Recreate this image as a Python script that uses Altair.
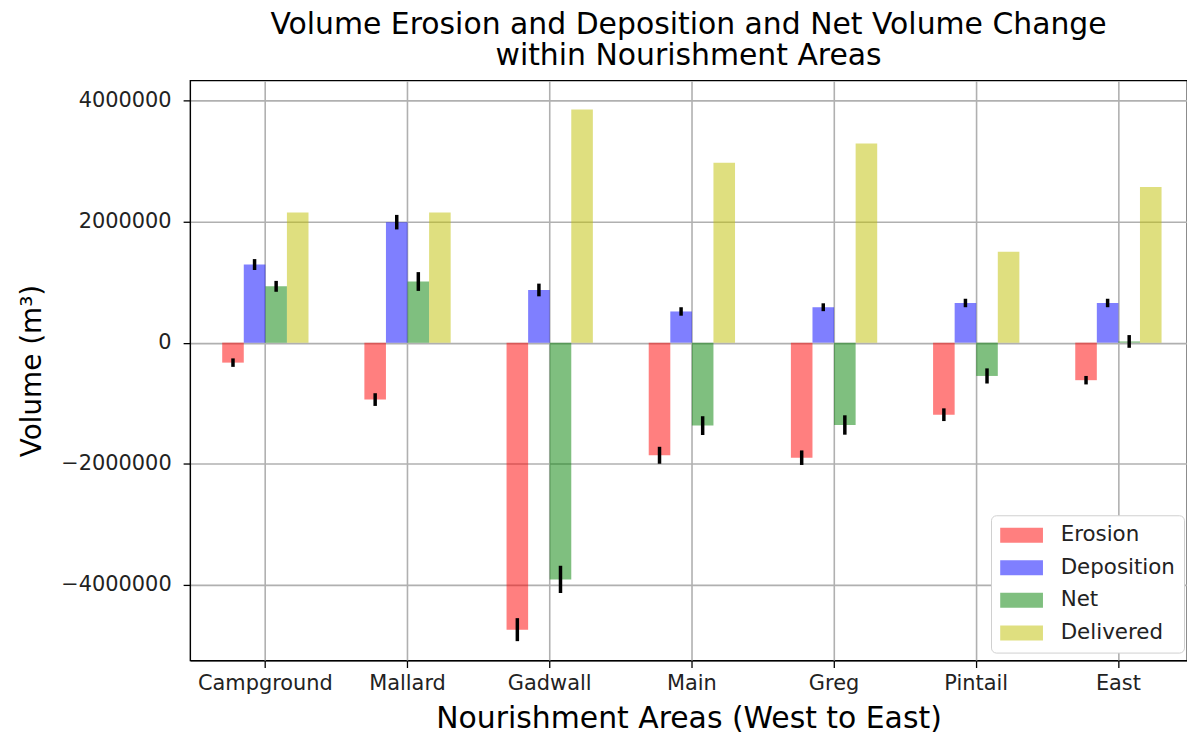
import altair as alt
import pandas as pd

areas = ["Campground", "Mallard", "Gadwall", "Main", "Greg", "Pintail", "East"]
series = ["Erosion", "Deposition", "Net", "Delivered"]
colors = ["#ff0000", "#0000ff", "#008000", "#bfbf00"]

erosion = [-330000, -940000, -4740000, -1860000, -1900000, -1190000, -620000]
erosion_err = [70000, 105000, 190000, 140000, 120000, 105000, 70000]
deposition = [1290000, 1990000, 870000, 515000, 585000, 655000, 655000]
deposition_err = [90000, 120000, 105000, 70000, 65000, 70000, 70000]
net = [930000, 1010000, -3910000, -1370000, -1360000, -550000, 20000]
net_err = [90000, 155000, 225000, 155000, 160000, 125000, 105000]
delivered = [2150000, 2150000, 3850000, 2970000, 3290000, 1500000, 2570000]

y_ticks = [-4000000, -2000000, 0, 2000000, 4000000]

rows = []
for vals, errs, name in [
    (erosion, erosion_err, "Erosion"),
    (deposition, deposition_err, "Deposition"),
    (net, net_err, "Net"),
    (delivered, [None] * len(areas), "Delivered"),
]:
    for a, v, e in zip(areas, vals, errs):
        rows.append({"area": a, "series": name, "value": v, "err": e})
df = pd.DataFrame(rows)

x_enc = alt.X(
    "area:N",
    sort=areas,
    scale=alt.Scale(paddingInner=0.393, paddingOuter=0.2025, align=0.558),
    axis=alt.Axis(
        title="Nourishment Areas (West to East)",
        labelAngle=0,
        grid=True,
        bandPosition=0.5,
        tickSize=7,
        labelPadding=5,
        titlePadding=10,
        labelFontSize=21,
        titleFontSize=30,
    ),
)
xoff_enc = alt.XOffset(
    "series:N", sort=series, scale=alt.Scale(paddingInner=0, paddingOuter=0)
)
y_scale = alt.Scale(domain=[-5250000, 4330000], nice=False, zero=False)

bars = alt.Chart(df).mark_bar(opacity=0.5).encode(
    x=x_enc,
    xOffset=xoff_enc,
    y=alt.Y(
        "value:Q",
        scale=y_scale,
        axis=alt.Axis(
            title="Volume (m³)",
            values=y_ticks,
            format="d",
            grid=True,
            tickSize=7,
            labelPadding=12,
            titlePadding=14,
            labelFontSize=21,
            titleFontSize=28,
        ),
    ),
    color=alt.Color(
        "series:N",
        sort=series,
        scale=alt.Scale(domain=series, range=colors),
        legend=alt.Legend(
            title=None,
            orient="none",
            legendX=805,
            legendY=437,
            symbolType="M-1,-0.7H3V0.7H-1Z",
            symbolSize=462,
            symbolOpacity=0.5,
            symbolStrokeWidth=0,
            labelFontSize=21.5,
            labelOffset=39,
            rowPadding=10.75,
            padding=9,
            fillColor="white",
            strokeColor="#d0d0d0",
            cornerRadius=5,
        ),
    ),
)

errs = alt.Chart(df).transform_filter("datum.err != null").transform_calculate(
    lo="datum.value - datum.err", hi="datum.value + datum.err"
).mark_rule(color="black", strokeWidth=3.5).encode(
    x=alt.X("area:N", sort=areas),
    xOffset=alt.XOffset("series:N", sort=series),
    y=alt.Y("lo:Q"),
    y2="hi:Q",
)

chart = (
    alt.layer(bars, errs)
    .properties(
        width=1002,
        height=583,
        title=alt.TitleParams(
            ["Volume Erosion and Deposition and Net Volume Change", "within Nourishment Areas"],
            fontSize=30,
            lineHeight=31,
            fontWeight="normal",
            font="DejaVu Sans",
            color="black",
            offset=10,
        ),
        padding={"left": 183, "top": 71, "right": 0, "bottom": 72},
        autosize=alt.AutoSizeParams(type="none"),
    )
    .configure(font="DejaVu Sans")
    .configure_view(stroke="black", strokeWidth=1.3)
    .configure_axis(
        labelFont="DejaVu Sans",
        titleFont="DejaVu Sans",
        titleFontWeight="normal",
        labelColor="#222",
        titleColor="black",
        gridColor="#b0b0b0",
        gridWidth=1.6,
        domainColor="black",
        tickColor="black",
        tickWidth=1.3,
    )
    .configure_legend(labelFont="DejaVu Sans", labelColor="#222")
)

chart.save("out.html", embed_options={"renderer": "svg", "actions": False})
